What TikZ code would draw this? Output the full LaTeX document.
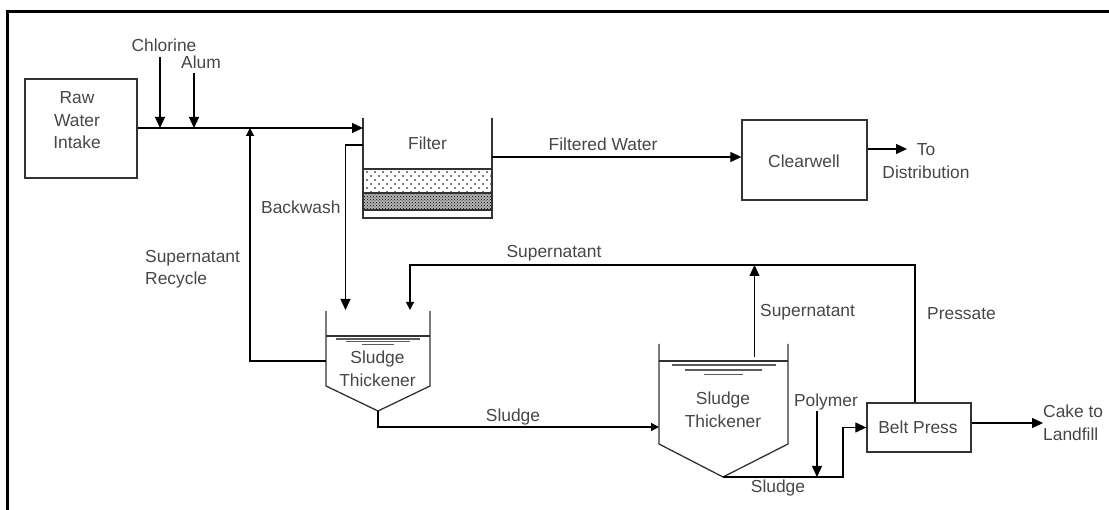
\documentclass[tikz,border=0pt]{standalone}
\usepackage{fontspec}
\setmainfont{Liberation Sans}
\usetikzlibrary{arrows.meta,patterns}
\definecolor{txtgray}{RGB}{70,70,70}
\definecolor{linegray}{RGB}{50,50,50}
\begin{document}
\begin{tikzpicture}[
  x=1pt, y=-1pt,
  unit/.style={rectangle, draw=linegray, line width=1.3pt, inner sep=0pt},
  lbl/.style={font=\fontsize{17.4}{22.5}\selectfont, text=txtgray, align=left, inner sep=0pt},
  wall/.style={draw=linegray, line width=1.3pt},
  conn/.style={-{Triangle[length=11pt,width=10pt]}, draw=black, line width=1.2pt},
  connsmall/.style={-{Triangle[length=8pt,width=8pt]}, draw=black, line width=1.2pt},
  level/.style={draw=linegray!80, line width=1.2pt}
]
\useasboundingbox (0,0) rectangle (1109,510);
% frame
\draw[line width=3pt] (7.2,510) -- (7.2,11.5) -- (1109,11.5);

% boxes
\node[unit, minimum width=112pt, minimum height=99pt] (intake) at (81,128.5) {};
\node[lbl, align=center] (intakelbl) at (77,120.5) {Raw\\Water\\Intake};
\node[unit, minimum width=125pt, minimum height=80pt] (clearwell) at (804.5,160) {};
\node[lbl] (clearwelllbl) at (804,161) {Clearwell};
\node[unit, minimum width=104pt, minimum height=49pt] (press) at (919,427.5) {};
\node[lbl] (presslbl) at (918,427) {Belt Press};

% filter
\coordinate (filterin) at (363,128);
\coordinate (filterback) at (363,145);
\coordinate (filterout) at (492,157);
\foreach \r in {0,...,5} {
  \pgfmathsetmacro{\offs}{mod(\r,2)*4}
  \foreach \c in {0,...,15} {
    \fill (367+\c*8+\offs,172+\r*4) circle (0.95pt);
  }
}
\fill[black!30] (363,193) rectangle (492,210);
\fill[pattern=crosshatch dots, pattern color=black] (363,193) rectangle (492,210);
\draw[wall] (363,118) -- (363,218) -- (492,218) -- (492,118);
\draw[wall] (363,169) -- (492,169) (363,193) -- (492,193) (363,210) -- (492,210);
\node[lbl] (filterlbl) at (427.5,143) {Filter};

% first thickener
\draw[wall] (326,311) -- (326,386) -- (378,411) -- (430,386) -- (430,311);
\draw[wall] (326,336) -- (430,336);
\draw[level] (336,339) -- (420,339) (346,341.5) -- (410,341.5) (362,344.5) -- (394,344.5);
\node[lbl, align=center] (thick1) at (377.5,369) {Sludge\\Thickener};
\coordinate (thick1in) at (345.5,310);
\coordinate (thick1super) at (410,310);
\coordinate (thick1tip) at (378,411);
\coordinate (thick1side) at (326,361);

% second thickener
\draw[wall] (659,344) -- (659,444) -- (723,477) -- (788,444) -- (788,344);
\draw[wall] (659,361) -- (788,361);
\draw[level] (672,365) -- (776,365) (685,370) -- (762,370) (704,374.5) -- (743,374.5);
\node[lbl, align=center] (thick2) at (723,410) {Sludge\\Thickener};
\coordinate (thick2in) at (659,427);
\coordinate (thick2tip) at (723,477);
\coordinate (thick2top) at (754.5,357);

% coordinates for junctions
\coordinate (chlorine) at (160,57);
\coordinate (chlorinej) at (160,128);
\coordinate (alum) at (194,73);
\coordinate (alumj) at (194,128);
\coordinate (recyclej) at (250,128);
\coordinate (polymer) at (817,411);
\coordinate (polymerj) at (817,477);
\coordinate (topj) at (754.5,265);
\coordinate (distend) at (907,149);
\coordinate (cakeend) at (1043,423);

% connectors
\draw[conn] (filterin -| intake.east) -- (filterin);
\draw[conn] (chlorine) -- (chlorinej);
\draw[conn] (alum) -- (alumj);
\draw[connsmall] (thick1side) -| (recyclej);
\draw[conn] (filterback) -| (thick1in);
\draw[conn] (filterout) -- (filterout -| clearwell.west);
\draw[conn] (distend -| clearwell.east) -- (distend);
\draw[connsmall] (press.north -| 915,0) |- (topj) -| (thick1super);
\draw[conn] (thick2top) -- (topj);
\draw[connsmall] (thick1tip) |- (thick2in);
\draw[conn] (thick2tip) -- (843,477) |- (press.west);
\draw[conn] (polymer) -- (polymerj);
\draw[conn] (cakeend -| press.east) -- (cakeend);

% labels
\node[lbl] (lchlorine) at (164,45) {Chlorine};
\node[lbl] (lalum) at (201,62) {Alum};
\node[lbl] (lfiltered) at (603,144) {Filtered Water};
\node[lbl, align=center] (ldist) at (926,161) {To\\Distribution};
\node[lbl, anchor=west] (lback) at (261,207) {Backwash};
\node[lbl, anchor=west] (lrecycle) at (145,269) {Supernatant\\Recycle};
\node[lbl] (lsuper1) at (554,253) {Supernatant};
\node[lbl, anchor=west] (lsuper2) at (760,312) {Supernatant};
\node[lbl, anchor=west] (lpressate) at (927,314) {Pressate};
\node[lbl] (lsludge1) at (513,417) {Sludge};
\node[lbl] (lsludge2) at (778,488) {Sludge};
\node[lbl] (lpolymer) at (826,402) {Polymer};
\node[lbl, anchor=west] (lcake) at (1043,423) {Cake to\\Landfill};
\end{tikzpicture}
\end{document}
